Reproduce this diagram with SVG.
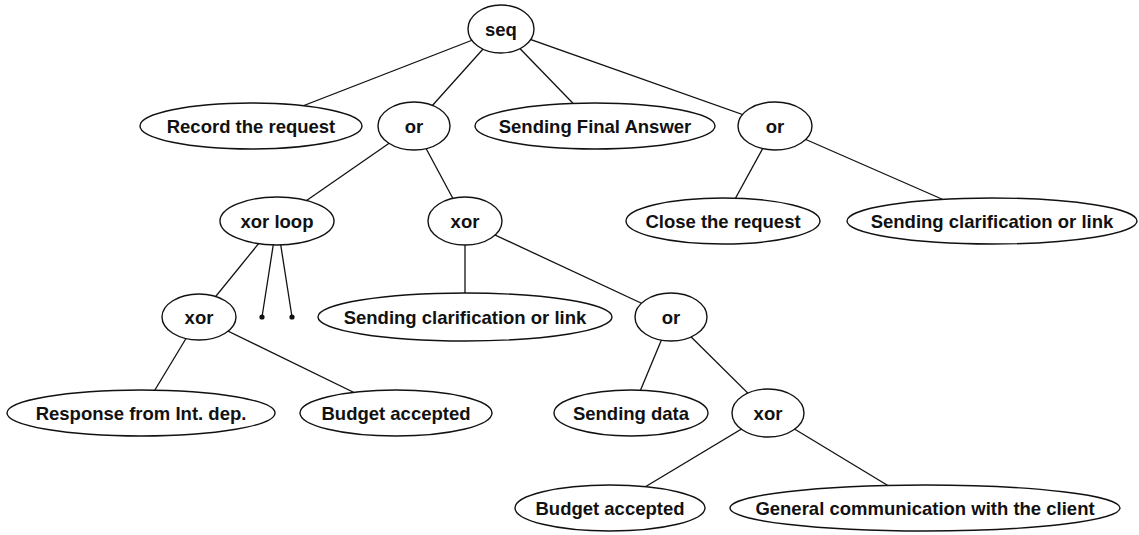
<svg xmlns="http://www.w3.org/2000/svg" width="1139" height="535" viewBox="0 0 1139 535">
  <style>
    .edge { stroke: #111; stroke-width: 1.3; fill: none; }
    .node ellipse { fill: #fff; stroke: #111; stroke-width: 1.4; }
    .node text { font-family: "Liberation Sans", Arial, Helvetica, sans-serif; font-weight: bold; font-size: 18.5px; fill: #111; text-anchor: middle; }
    .pt { fill: #111; }
  </style>
  <rect width="1139" height="535" fill="#fff"/>

  <!-- connectors run centre to centre; white node fills hide the inner parts -->
  <g id="edges">
    <line class="edge" x1="501" y1="29" x2="251" y2="126"/>
    <line class="edge" x1="501" y1="29" x2="414" y2="126"/>
    <line class="edge" x1="501" y1="29" x2="595" y2="126"/>
    <line class="edge" x1="501" y1="29" x2="775" y2="126"/>
    <line class="edge" x1="414" y1="126" x2="277" y2="221"/>
    <line class="edge" x1="414" y1="126" x2="465" y2="221"/>
    <line class="edge" x1="775" y1="126" x2="723" y2="221"/>
    <line class="edge" x1="775" y1="126" x2="992" y2="221"/>
    <line class="edge" x1="277" y1="221" x2="199" y2="317"/>
    <line class="edge" x1="277" y1="221" x2="262" y2="317"/>
    <line class="edge" x1="277" y1="221" x2="292" y2="317"/>
    <line class="edge" x1="465" y1="221" x2="465" y2="317"/>
    <line class="edge" x1="465" y1="221" x2="671" y2="317"/>
    <line class="edge" x1="199" y1="317" x2="141" y2="413"/>
    <line class="edge" x1="199" y1="317" x2="396" y2="413"/>
    <line class="edge" x1="671" y1="317" x2="631" y2="413"/>
    <line class="edge" x1="671" y1="317" x2="768" y2="413"/>
    <line class="edge" x1="768" y1="413" x2="610" y2="508"/>
    <line class="edge" x1="768" y1="413" x2="925" y2="508"/>
  </g>

  <g id="n_seq" class="node"><ellipse cx="501" cy="29" rx="33" ry="24"/><text x="501" y="35.5">seq</text></g>

  <g id="n_record" class="node"><ellipse cx="251" cy="126" rx="111" ry="23"/><text x="251" y="132.5">Record the request</text></g>
  <g id="n_or1" class="node"><ellipse cx="414" cy="126" rx="36" ry="24"/><text x="414" y="132.5">or</text></g>
  <g id="n_final" class="node"><ellipse cx="595" cy="126" rx="120" ry="23"/><text x="595" y="132.5">Sending Final Answer</text></g>
  <g id="n_or2" class="node"><ellipse cx="775" cy="126" rx="37" ry="24"/><text x="775" y="132.5">or</text></g>

  <g id="n_xorloop" class="node"><ellipse cx="277" cy="221" rx="57" ry="24"/><text x="277" y="227.5">xor loop</text></g>
  <g id="n_xor1" class="node"><ellipse cx="465" cy="221" rx="37" ry="24"/><text x="465" y="227.5">xor</text></g>
  <g id="n_close" class="node"><ellipse cx="723" cy="221" rx="97" ry="23"/><text x="723" y="227.5">Close the request</text></g>
  <g id="n_clar2" class="node"><ellipse cx="992" cy="221" rx="145" ry="23"/><text x="992" y="227.5">Sending clarification or link</text></g>

  <g id="n_xor2" class="node"><ellipse cx="199" cy="317" rx="37" ry="23"/><text x="199" y="323.5">xor</text></g>
  <g id="n_pt1"><circle class="pt" cx="262" cy="317" r="2.6"/></g>
  <g id="n_pt2"><circle class="pt" cx="292" cy="317" r="2.6"/></g>
  <g id="n_clar1" class="node"><ellipse cx="465" cy="317" rx="147" ry="24"/><text x="465" y="323.5">Sending clarification or link</text></g>
  <g id="n_or3" class="node"><ellipse cx="671" cy="317" rx="36" ry="24"/><text x="671" y="323.5">or</text></g>

  <g id="n_response" class="node"><ellipse cx="141" cy="413" rx="134" ry="23"/><text x="141" y="419.5">Response from Int. dep.</text></g>
  <g id="n_budget1" class="node"><ellipse cx="396" cy="413" rx="96" ry="23"/><text x="396" y="419.5">Budget accepted</text></g>
  <g id="n_data" class="node"><ellipse cx="631" cy="413" rx="77" ry="23"/><text x="631" y="419.5">Sending data</text></g>
  <g id="n_xor3" class="node"><ellipse cx="768" cy="413" rx="36" ry="24"/><text x="768" y="419.5">xor</text></g>

  <g id="n_budget2" class="node"><ellipse cx="610" cy="508" rx="95" ry="23"/><text x="610" y="514.5">Budget accepted</text></g>
  <g id="n_general" class="node"><ellipse cx="925" cy="508" rx="195" ry="23"/><text x="925" y="514.5">General communication with the client</text></g>
</svg>
